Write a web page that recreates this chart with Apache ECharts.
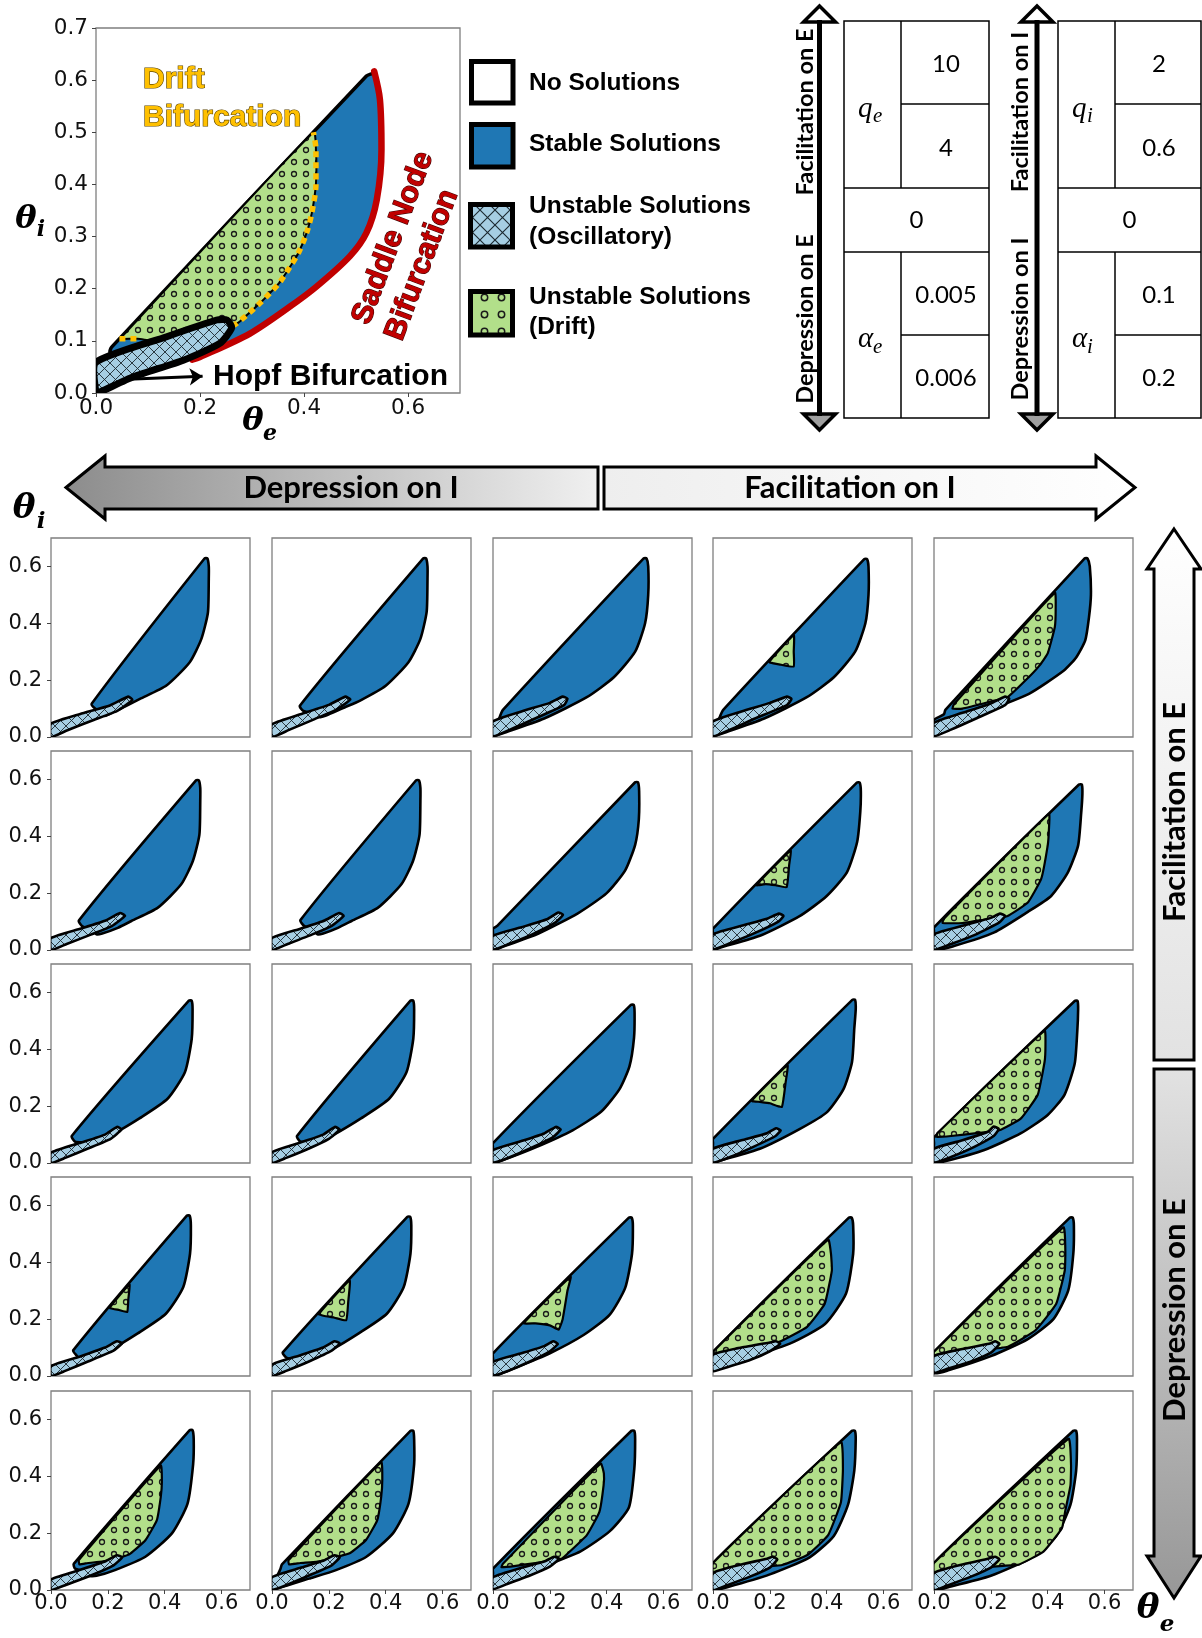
<!DOCTYPE html>
<html><head><meta charset="utf-8">
<script src="https://cdn.jsdelivr.net/npm/echarts@6/dist/echarts.min.js"></script>
<style>html,body{margin:0;padding:0;background:#fff}#c{width:1202px;height:1638px}</style>
</head><body><div id="c"></div>
<script>
// ---------------- DATA (theta_e, theta_i) ----------------
const MAIN_X_TICKS = [0, 0.2, 0.4, 0.6];
const MAIN_Y_TICKS = [0, 0.1, 0.2, 0.3, 0.4, 0.5, 0.6, 0.7];
const PANEL_X_TICKS = [0, 0.2, 0.4, 0.6];
const PANEL_Y_TICKS = [0, 0.2, 0.4, 0.6];

const MAIN_STABLE = [[0.027,0.078],[0.03,0.088],[0.52,0.608],[0.535,0.612],[0.545,0.563],[0.549,0.467],[0.54,0.371],[0.52,0.307],[0.488,0.262],[0.424,0.204],[0.372,0.165],[0.296,0.114],[0.2,0.069],[0.17,0.064],[0.1,0.07],[0.05,0.075]];
const MAIN_DRIFT = [[0.045,0.104],[0.05,0.108],[0.418,0.5],[0.423,0.467],[0.423,0.402],[0.415,0.345],[0.405,0.307],[0.389,0.268],[0.373,0.242],[0.354,0.213],[0.334,0.191],[0.315,0.172],[0.293,0.152],[0.27,0.133],[0.2,0.125],[0.12,0.1],[0.08,0.104]];
const MAIN_DRIFT_EDGE = [[0.262,0.128],[0.27,0.133],[0.293,0.152],[0.315,0.172],[0.334,0.191],[0.354,0.213],[0.373,0.242],[0.389,0.268],[0.405,0.307],[0.415,0.345],[0.423,0.402],[0.423,0.467],[0.418,0.5]];
const MAIN_DRIFT_FOOT = [[0.045,0.104],[0.08,0.104]];
const MAIN_SADDLE = [[0.535,0.617],[0.546,0.563],[0.549,0.467],[0.54,0.371],[0.52,0.307],[0.488,0.262],[0.424,0.204],[0.372,0.165],[0.296,0.114],[0.2,0.069],[0.185,0.064]];
const MAIN_HOPF = [[0,0.059],[0.136,0.108],[0.232,0.14],[0.252,0.14],[0.261,0.125],[0.238,0.095],[0.168,0.063],[0.072,0.031],[0.008,0.002],[0,0]];
const HOPF_ARROW = [[0.05,0.026],[0.205,0.032]];

// 5x5 panels, row by row (rows: facilitation on E -> depression on E; cols: depression on I -> facilitation on I)
const PANEL_STABLE = [
 [[0.155,0.1],[0.143,0.117],[0.54,0.628],[0.55,0.628],[0.555,0.6],[0.555,0.556],[0.552,0.438],[0.529,0.345],[0.488,0.263],[0.406,0.181],[0.313,0.134],[0.265,0.11],[0.207,0.082],[0.19,0.074],[0.18,0.085]],
 [[0.11,0.092],[0.098,0.11],[0.532,0.628],[0.542,0.628],[0.547,0.6],[0.547,0.556],[0.544,0.44],[0.522,0.345],[0.48,0.263],[0.4,0.18],[0.31,0.128],[0.255,0.104],[0.2,0.08],[0.17,0.07],[0.16,0.08]],
 [[0.02,0.06],[0.035,0.095],[0.53,0.628],[0.54,0.628],[0.546,0.6],[0.546,0.5],[0.535,0.4],[0.5,0.3],[0.425,0.21],[0.33,0.14],[0.18,0.065],[0.04,0.015],[0,0.003]],
 [[0.02,0.06],[0.036,0.095],[0.532,0.626],[0.542,0.626],[0.547,0.6],[0.547,0.5],[0.536,0.4],[0.5,0.3],[0.425,0.21],[0.33,0.14],[0.18,0.065],[0.04,0.015],[0,0.003]],
 [[0,0.06],[0.035,0.08],[0.04,0.095],[0.53,0.628],[0.54,0.628],[0.548,0.6],[0.552,0.5],[0.545,0.42],[0.532,0.34],[0.5,0.28],[0.457,0.234],[0.334,0.152],[0.187,0.094],[0.1,0.068],[0.04,0.054],[0,0.03]],
 [[0.112,0.082],[0.098,0.104],[0.51,0.597],[0.52,0.597],[0.525,0.57],[0.525,0.524],[0.522,0.406],[0.499,0.313],[0.458,0.231],[0.376,0.149],[0.283,0.102],[0.235,0.078],[0.18,0.058],[0.16,0.055],[0.15,0.068]],
 [[0.115,0.083],[0.1,0.105],[0.507,0.597],[0.517,0.597],[0.522,0.57],[0.522,0.524],[0.519,0.406],[0.496,0.313],[0.455,0.231],[0.373,0.149],[0.28,0.102],[0.232,0.078],[0.18,0.058],[0.16,0.055],[0.15,0.068]],
 [[0,0.058],[0,0.075],[0.015,0.085],[0.5,0.59],[0.51,0.59],[0.514,0.56],[0.513,0.46],[0.5,0.37],[0.465,0.28],[0.4,0.2],[0.3,0.13],[0.16,0.058],[0.03,0.01],[0,0]],
 [[0,0.055],[0,0.075],[0.506,0.589],[0.516,0.589],[0.52,0.56],[0.518,0.485],[0.507,0.38],[0.471,0.273],[0.4,0.19],[0.306,0.12],[0.165,0.05],[0.024,0.008],[0,0]],
 [[0,0.065],[0,0.08],[0.51,0.582],[0.52,0.582],[0.522,0.55],[0.518,0.485],[0.507,0.368],[0.471,0.273],[0.412,0.19],[0.33,0.134],[0.212,0.062],[0.07,0.014],[0,0]],
 [[0.085,0.075],[0.073,0.095],[0.485,0.571],[0.495,0.571],[0.498,0.54],[0.495,0.437],[0.471,0.319],[0.41,0.226],[0.311,0.157],[0.213,0.098],[0.16,0.07],[0.14,0.062],[0.13,0.072]],
 [[0.1,0.075],[0.088,0.095],[0.487,0.571],[0.497,0.571],[0.5,0.54],[0.497,0.437],[0.473,0.319],[0.412,0.226],[0.313,0.157],[0.215,0.098],[0.16,0.07],[0.14,0.062],[0.13,0.072]],
 [[0,0.052],[0,0.07],[0.485,0.556],[0.495,0.556],[0.498,0.53],[0.496,0.44],[0.48,0.34],[0.445,0.26],[0.38,0.18],[0.28,0.115],[0.15,0.055],[0.04,0.012],[0,0]],
 [[0,0.07],[0,0.085],[0.49,0.574],[0.5,0.574],[0.502,0.54],[0.497,0.473],[0.489,0.355],[0.459,0.26],[0.4,0.178],[0.306,0.12],[0.165,0.05],[0.024,0.008],[0,0]],
 [[0,0.07],[0,0.09],[0.495,0.57],[0.505,0.57],[0.507,0.54],[0.504,0.464],[0.495,0.35],[0.459,0.24],[0.4,0.169],[0.306,0.105],[0.177,0.046],[0.035,0.005],[0,0]],
 [[0.09,0.072],[0.078,0.09],[0.478,0.564],[0.488,0.564],[0.492,0.53],[0.489,0.43],[0.465,0.312],[0.404,0.219],[0.305,0.15],[0.207,0.091],[0.133,0.056],[0.11,0.05],[0.1,0.06]],
 [[0.05,0.065],[0.038,0.083],[0.476,0.56],[0.486,0.56],[0.49,0.53],[0.487,0.43],[0.463,0.312],[0.404,0.219],[0.305,0.15],[0.207,0.091],[0.133,0.056],[0.1,0.045],[0.08,0.055]],
 [[0,0.06],[0,0.08],[0.478,0.557],[0.488,0.557],[0.492,0.53],[0.489,0.43],[0.465,0.31],[0.41,0.215],[0.32,0.145],[0.2,0.08],[0.08,0.03],[0,0]],
 [[0,0.07],[0,0.085],[0.478,0.557],[0.488,0.557],[0.493,0.53],[0.493,0.43],[0.468,0.29],[0.394,0.183],[0.27,0.114],[0.099,0.056],[0,0.02]],
 [[0,0.07],[0,0.085],[0.478,0.557],[0.488,0.557],[0.492,0.53],[0.49,0.43],[0.472,0.3],[0.42,0.2],[0.33,0.13],[0.2,0.07],[0.05,0.02],[0,0.01]],
 [[0.085,0.075],[0.08,0.092],[0.488,0.562],[0.498,0.562],[0.502,0.53],[0.5,0.443],[0.48,0.303],[0.426,0.2],[0.332,0.117],[0.225,0.07],[0.16,0.05],[0.13,0.05],[0.12,0.065]],
 [[0.03,0.075],[0.035,0.09],[0.487,0.56],[0.497,0.56],[0.5,0.53],[0.5,0.443],[0.48,0.303],[0.426,0.2],[0.332,0.117],[0.225,0.07],[0.13,0.04],[0.05,0.015],[0,0.003]],
 [[0,0.06],[0,0.075],[0.487,0.56],[0.497,0.56],[0.5,0.53],[0.497,0.426],[0.478,0.29],[0.411,0.207],[0.308,0.136],[0.175,0.082],[0.05,0.035],[0,0.015]],
 [[0,0.06],[0,0.095],[0.489,0.56],[0.499,0.56],[0.502,0.53],[0.497,0.42],[0.475,0.3],[0.425,0.19],[0.34,0.115],[0.2,0.055],[0.05,0.01],[0,0]],
 [[0,0.06],[0,0.095],[0.49,0.56],[0.5,0.56],[0.503,0.53],[0.5,0.42],[0.48,0.3],[0.43,0.19],[0.345,0.115],[0.2,0.05],[0.05,0.01],[0,0]]
];
const PANEL_DRIFT = [
 null, null, null,
 [[0.198,0.264],[0.284,0.358],[0.284,0.3],[0.284,0.248],[0.24,0.254]],
 [[0.065,0.1],[0.07,0.115],[0.425,0.508],[0.428,0.45],[0.425,0.387],[0.4,0.294],[0.37,0.25],[0.334,0.211],[0.26,0.141],[0.2,0.125],[0.1,0.1]],
 null, null, null,
 [[0.153,0.228],[0.273,0.35],[0.268,0.3],[0.259,0.221],[0.22,0.228],[0.185,0.232]],
 [[0.03,0.095],[0.035,0.11],[0.404,0.479],[0.404,0.42],[0.4,0.368],[0.377,0.25],[0.33,0.167],[0.259,0.12],[0.2,0.11],[0.1,0.095]],
 null, null, null,
 [[0.136,0.219],[0.262,0.344],[0.255,0.28],[0.242,0.197],[0.2,0.21],[0.165,0.215]],
 [[0.01,0.092],[0.012,0.105],[0.389,0.466],[0.392,0.41],[0.389,0.356],[0.365,0.24],[0.306,0.157],[0.23,0.115],[0.15,0.105],[0.06,0.095]],
 [[0.207,0.24],[0.276,0.322],[0.272,0.27],[0.268,0.225],[0.24,0.232]],
 [[0.165,0.218],[0.273,0.336],[0.268,0.26],[0.261,0.196],[0.22,0.205],[0.19,0.21]],
 [[0.108,0.186],[0.273,0.349],[0.262,0.3],[0.245,0.2],[0.231,0.163],[0.2,0.178],[0.15,0.185]],
 [[0,0.066],[0,0.085],[0.405,0.48],[0.415,0.43],[0.418,0.371],[0.393,0.254],[0.331,0.173],[0.233,0.12],[0.15,0.1],[0.05,0.075]],
 [[0,0.07],[0,0.085],[0.455,0.523],[0.462,0.44],[0.46,0.371],[0.43,0.254],[0.357,0.161],[0.26,0.103],[0.15,0.09],[0.05,0.075]],
 [[0.1,0.09],[0.098,0.105],[0.386,0.438],[0.39,0.38],[0.386,0.327],[0.372,0.245],[0.332,0.175],[0.279,0.128],[0.245,0.115],[0.18,0.1],[0.13,0.095]],
 [[0.06,0.09],[0.058,0.105],[0.384,0.45],[0.388,0.39],[0.384,0.327],[0.37,0.245],[0.33,0.175],[0.275,0.13],[0.235,0.118],[0.16,0.1],[0.1,0.095]],
 [[0.03,0.08],[0.035,0.092],[0.379,0.445],[0.39,0.41],[0.389,0.368],[0.374,0.274],[0.33,0.193],[0.257,0.123],[0.24,0.11],[0.15,0.095],[0.08,0.085]],
 [[0,0.06],[0,0.095],[0.45,0.52],[0.457,0.426],[0.45,0.309],[0.405,0.193],[0.332,0.123],[0.243,0.088],[0.15,0.08],[0.05,0.07]],
 [[0,0.06],[0,0.095],[0.473,0.532],[0.482,0.44],[0.48,0.368],[0.462,0.28],[0.45,0.217],[0.385,0.135],[0.3,0.09],[0.243,0.085],[0.15,0.078],[0.05,0.068]]
];
const PANEL_HOPF = [
 [[0,0.047],[0.103,0.081],[0.207,0.111],[0.272,0.142],[0.286,0.13],[0.233,0.092],[0.15,0.06],[0.058,0.024],[0,0]],
 [[0,0.045],[0.1,0.08],[0.2,0.113],[0.258,0.142],[0.275,0.132],[0.225,0.095],[0.15,0.063],[0.058,0.024],[0,0]],
 [[0,0.055],[0.1,0.09],[0.2,0.12],[0.245,0.142],[0.262,0.135],[0.25,0.112],[0.15,0.066],[0.06,0.026],[0,0.003]],
 [[0,0.055],[0.1,0.09],[0.2,0.12],[0.26,0.142],[0.276,0.134],[0.26,0.112],[0.15,0.066],[0.06,0.026],[0,0.003]],
 [[0,0.05],[0.1,0.085],[0.2,0.118],[0.25,0.142],[0.265,0.135],[0.25,0.112],[0.15,0.066],[0.06,0.026],[0,0.003]],
 [[0,0.042],[0.1,0.074],[0.19,0.103],[0.243,0.13],[0.26,0.12],[0.215,0.085],[0.14,0.054],[0.055,0.021],[0,0]],
 [[0,0.042],[0.1,0.075],[0.185,0.104],[0.236,0.13],[0.252,0.12],[0.21,0.085],[0.14,0.054],[0.055,0.021],[0,0]],
 [[0,0.05],[0.1,0.08],[0.19,0.108],[0.23,0.132],[0.246,0.124],[0.22,0.097],[0.14,0.056],[0.055,0.021],[0,0.002]],
 [[0,0.055],[0.1,0.085],[0.19,0.11],[0.232,0.128],[0.248,0.12],[0.23,0.1],[0.15,0.061],[0.06,0.024],[0,0.003]],
 [[0,0.055],[0.1,0.085],[0.2,0.113],[0.232,0.128],[0.25,0.12],[0.23,0.097],[0.15,0.056],[0.06,0.021],[0,0.001]],
 [[0,0.036],[0.1,0.07],[0.19,0.1],[0.232,0.127],[0.248,0.118],[0.21,0.085],[0.13,0.051],[0.05,0.018],[0,0]],
 [[0,0.038],[0.1,0.072],[0.18,0.1],[0.221,0.127],[0.238,0.118],[0.2,0.085],[0.13,0.051],[0.05,0.018],[0,0]],
 [[0,0.045],[0.1,0.077],[0.18,0.104],[0.221,0.127],[0.238,0.118],[0.21,0.09],[0.13,0.051],[0.05,0.017],[0,0.002]],
 [[0,0.05],[0.1,0.08],[0.19,0.105],[0.222,0.122],[0.238,0.115],[0.22,0.095],[0.14,0.056],[0.06,0.021],[0,0.002]],
 [[0,0.05],[0.1,0.08],[0.19,0.11],[0.21,0.128],[0.228,0.12],[0.21,0.095],[0.14,0.056],[0.06,0.021],[0,0.002]],
 [[0,0.035],[0.1,0.068],[0.19,0.1],[0.232,0.122],[0.25,0.115],[0.22,0.089],[0.13,0.051],[0.05,0.018],[0,0]],
 [[0,0.04],[0.1,0.073],[0.18,0.1],[0.22,0.122],[0.238,0.115],[0.21,0.089],[0.13,0.051],[0.05,0.018],[0,0]],
 [[0,0.05],[0.1,0.08],[0.18,0.105],[0.212,0.122],[0.228,0.113],[0.2,0.087],[0.13,0.051],[0.05,0.017],[0,0.002]],
 [[0,0.075],[0.1,0.1],[0.2,0.118],[0.222,0.122],[0.236,0.113],[0.2,0.087],[0.13,0.056],[0.05,0.031],[0,0.017]],
 [[0,0.07],[0.1,0.095],[0.2,0.115],[0.215,0.122],[0.23,0.113],[0.2,0.082],[0.13,0.051],[0.05,0.026],[0,0.012]],
 [[0,0.037],[0.1,0.07],[0.19,0.1],[0.232,0.122],[0.25,0.115],[0.22,0.087],[0.14,0.051],[0.05,0.017],[0,0]],
 [[0,0.045],[0.1,0.078],[0.18,0.103],[0.22,0.122],[0.238,0.115],[0.21,0.087],[0.13,0.051],[0.05,0.017],[0,0.001]],
 [[0,0.045],[0.1,0.078],[0.18,0.1],[0.215,0.117],[0.232,0.11],[0.2,0.082],[0.13,0.051],[0.05,0.021],[0,0.003]],
 [[0,0.06],[0.1,0.09],[0.19,0.11],[0.21,0.117],[0.226,0.108],[0.2,0.079],[0.13,0.047],[0.05,0.017],[0,0]],
 [[0,0.06],[0.1,0.09],[0.19,0.11],[0.215,0.117],[0.23,0.108],[0.2,0.079],[0.13,0.047],[0.05,0.017],[0,0]]
];

// ---------------- STYLE / LAYOUT ----------------
const BLUE = '#1f77b4', LIGHTBLUE = '#a6cee3', GREEN = '#b2df8a';
const PANEL_LEFT = [51, 272, 493, 713, 934];
const PANEL_TOP = [538, 751, 964, 1177, 1391];
const PANEL_SIZE = 199;

function hatchPattern(step, lw) {
  const c = document.createElement('canvas'); c.width = c.height = step;
  const g = c.getContext('2d');
  g.fillStyle = LIGHTBLUE; g.fillRect(0, 0, step, step);
  g.strokeStyle = '#1c2830'; g.lineWidth = lw;
  g.beginPath();
  g.moveTo(-2, -2); g.lineTo(step + 2, step + 2);
  g.moveTo(step + 2, -2); g.lineTo(-2, step + 2);
  g.stroke();
  return { image: c, repeat: 'repeat' };
}
function dotPattern(step, r, lw) {
  const c = document.createElement('canvas'); c.width = c.height = step;
  const g = c.getContext('2d');
  g.fillStyle = GREEN; g.fillRect(0, 0, step, step);
  g.strokeStyle = '#1a1a1a'; g.lineWidth = lw;
  g.beginPath(); g.arc(step / 2, step / 2, r, 0, Math.PI * 2); g.stroke();
  return { image: c, repeat: 'repeat' };
}
const HATCH = hatchPattern(11, 0.9);
const DOTS = dotPattern(12, 2.5, 1.3);
const HATCH_L = hatchPattern(15, 1.1);
const DOTS_L = dotPattern(17, 3.2, 1.5);

const fmt1 = v => Number(v).toFixed(1);
const grids = [], xAxes = [], yAxes = [], series = [];

function addGrid(gi, left, top, w, h, xt, yt, showX, showY, fs, ymargin, xmargin) {
  grids.push({ left, top, width: w, height: h, show: true, borderColor: '#7f7f7f', borderWidth: 1.3,
    backgroundColor: '#fff', containLabel: false, outerBoundsMode: 'none' });
  xAxes.push({ gridIndex: gi, type: 'value', min: 0, max: 0.7,
    axisLine: { show: false }, splitLine: { show: false },
    axisTick: { show: showX, customValues: xt, length: 4, lineStyle: { color: '#444' } },
    axisLabel: { show: showX, customValues: xt, formatter: fmt1, fontSize: fs, color: '#111', fontFamily: 'DejaVu Sans', margin: xmargin } });
  yAxes.push({ gridIndex: gi, type: 'value', min: 0, max: 0.7,
    axisLine: { show: false }, splitLine: { show: false },
    axisTick: { show: showY, customValues: yt, length: 4, lineStyle: { color: '#444' } },
    axisLabel: { show: showY, customValues: yt, formatter: fmt1, fontSize: fs, color: '#111', fontFamily: 'DejaVu Sans', margin: ymargin } });
}
function poly(gi, pts, fill, lw, z, smooth) {
  return { type: 'custom', coordinateSystem: 'cartesian2d', xAxisIndex: gi, yAxisIndex: gi, clip: true, silent: true, z: z,
    data: pts,
    renderItem: function (params, api) {
      if (params.dataIndex !== 0) return null;
      return { type: 'polygon', shape: { points: pts.map(p => api.coord(p)), smooth: smooth || 0 },
        style: { fill: fill, stroke: '#000', lineWidth: lw, lineJoin: 'round' } };
    } };
}

// main plot
addGrid(0, 96, 28, 364, 365, MAIN_X_TICKS, MAIN_Y_TICKS, true, true, 21.5, 8, 4);
series.push(poly(0, MAIN_STABLE, BLUE, 3.5, 2, 0.2));
series.push(poly(0, MAIN_DRIFT, DOTS, 2, 3, 0.2));
series.push({ type: 'line', xAxisIndex: 0, yAxisIndex: 0, data: MAIN_DRIFT_EDGE, symbol: 'none', showSymbol: false, silent: true, z: 4, smooth: 0.3,
  lineStyle: { color: '#FFC000', width: 5.5, type: [6, 5], cap: 'butt' } });
series.push({ type: 'line', xAxisIndex: 0, yAxisIndex: 0, data: MAIN_DRIFT_FOOT, symbol: 'none', showSymbol: false, silent: true, z: 4,
  lineStyle: { color: '#FFC000', width: 5.5, type: [6, 5], cap: 'butt' } });
series.push({ type: 'line', xAxisIndex: 0, yAxisIndex: 0, data: MAIN_SADDLE, symbol: 'none', showSymbol: false, silent: true, z: 4, smooth: 0.3,
  lineStyle: { color: '#C00000', width: 6.5, cap: 'round', join: 'round' } });
series.push(poly(0, MAIN_HOPF, HATCH, 7, 5, 0.2));
series.push({ type: 'lines', coordinateSystem: 'cartesian2d', xAxisIndex: 0, yAxisIndex: 0, silent: true, z: 6,
  symbol: ['none', 'arrow'], symbolSize: 13,
  lineStyle: { color: '#000', width: 3, curveness: 0, opacity: 1 },
  data: [{ coords: HOPF_ARROW }] });

// panels
for (let r = 0; r < 5; r++) {
  for (let c = 0; c < 5; c++) {
    const k = r * 5 + c, gi = 1 + k;
    addGrid(gi, PANEL_LEFT[c], PANEL_TOP[r], PANEL_SIZE, PANEL_SIZE, PANEL_X_TICKS, PANEL_Y_TICKS, r === 4, c === 0, 21, 9, 3);
    series.push(poly(gi, PANEL_STABLE[k], BLUE, 2.6, 2, 0.2));
    if (PANEL_DRIFT[k]) series.push(poly(gi, PANEL_DRIFT[k], DOTS, 2.2, 3, 0.12));
    series.push(poly(gi, PANEL_HOPF[k], HATCH, 2.6, 4, 0.15));
  }
}

// ---------------- GRAPHICS ----------------
function T(x, y, text, font, opts, rotation) {
  const el = { type: 'text', x, y, z: 20, silent: true,
    style: Object.assign({ text, font, fill: '#000', align: 'left', verticalAlign: 'middle' }, opts || {}) };
  if (rotation) el.rotation = rotation;
  return el;
}
function L(x1, y1, x2, y2, w) {
  return { type: 'line', z: 20, silent: true, shape: { x1, y1, x2, y2 }, style: { stroke: '#000', lineWidth: w } };
}
function P(points, fill, lw) {
  return { type: 'polygon', z: 19, silent: true, shape: { points }, style: { fill, stroke: '#000', lineWidth: lw, lineJoin: 'miter' } };
}
function R(x, y, w, h, fill, lw) {
  return { type: 'rect', z: 20, silent: true, shape: { x, y, width: w, height: h }, style: { fill, stroke: '#000', lineWidth: lw } };
}
const lin = (x2, y2, c0, c1) => ({ type: 'linear', x: 0, y: 0, x2, y2, colorStops: [{ offset: 0, color: c0 }, { offset: 1, color: c1 }] });

const AR = 'bold 30px "Liberation Sans"';
const LG = 'bold 24.5px "Liberation Sans"';
const CAL = '"Lato"';
const G = [];
// main-plot annotations
G.push(T(143, 80, 'Drift', AR, { fill: '#FFC000', stroke: '#5a4300', lineWidth: 1.2 }));
G.push(T(143, 118, 'Bifurcation', AR, { fill: '#FFC000', stroke: '#5a4300', lineWidth: 1.2 }));
G.push(T(361, 323, 'Saddle Node', AR, { fill: '#C00000', stroke: '#3f0000', lineWidth: 1.2 }, 1.21));
G.push(T(394, 339, 'Bifurcation', AR, { fill: '#C00000', stroke: '#3f0000', lineWidth: 1.2 }, 1.21));
G.push(T(213, 377, 'Hopf Bifurcation', 'bold 30px "Liberation Sans"'));
// axis names
const TH = 'bold italic 32px "DejaVu Serif"', SB = 'bold italic 22px "DejaVu Serif"';
G.push(T(26, 220, 'θ', TH, { align: 'center' }));
G.push(T(41, 230, 'i', SB, { align: 'center' }));
G.push(T(253, 422, 'θ', TH, { align: 'center' }));
G.push(T(270, 434, 'e', SB, { align: 'center' }));
G.push(T(24, 509, 'θ', 'bold italic 34px "DejaVu Serif"', { align: 'center' }));
G.push(T(41, 522, 'i', 'bold italic 23px "DejaVu Serif"', { align: 'center' }));
G.push(T(1148, 1609, 'θ', 'bold italic 34px "DejaVu Serif"', { align: 'center' }));
G.push(T(1167, 1625, 'e', 'bold italic 23px "DejaVu Serif"', { align: 'center' }));
// legend
G.push(R(471.5, 61.5, 41.5, 41.5, '#fff', 5));
G.push(R(471.5, 124.5, 41.5, 42.5, BLUE, 5));
G.push(R(470.5, 204.5, 42, 42.5, HATCH_L, 5));
G.push(R(470.5, 291.5, 42, 43.5, DOTS_L, 5));
G.push(T(529, 83, 'No Solutions', LG));
G.push(T(529, 144, 'Stable Solutions', LG));
G.push(T(529, 206, 'Unstable Solutions', LG));
G.push(T(529, 237, '(Oscillatory)', LG));
G.push(T(529, 297, 'Unstable Solutions', LG));
G.push(T(529, 327, '(Drift)', LG));
// parameter tables
function table(x0, x1, xm, sub, vals) {
  const ys = [21, 104, 188, 252, 335, 418];
  G.push(R(x0, ys[0], x1 - x0, ys[5] - ys[0], 'none', 1.5));
  G.push(L(xm, ys[0], xm, ys[2], 1.5));
  G.push(L(xm, ys[3], xm, ys[5], 1.5));
  G.push(L(xm, ys[1], x1, ys[1], 1.5));
  G.push(L(x0, ys[2], x1, ys[2], 1.5));
  G.push(L(x0, ys[3], x1, ys[3], 1.5));
  G.push(L(xm, ys[4], x1, ys[4], 1.5));
  const cx = (xm + x1) / 2 + 1, NF = '24px ' + CAL;
  G.push(T(cx, 64, vals[0], NF, { align: 'center' }));
  G.push(T(cx, 148, vals[1], NF, { align: 'center' }));
  G.push(T((x0 + x1) / 2, 220, vals[2], NF, { align: 'center' }));
  G.push(T(cx, 295, vals[3], NF, { align: 'center' }));
  G.push(T(cx, 378, vals[4], NF, { align: 'center' }));
  const mx = x0 + 14;
  G.push(T(mx, 109, 'q', 'italic 29px "Liberation Serif"'));
  G.push(T(mx + 15, 116, sub, 'italic 21px "Liberation Serif"'));
  G.push(T(mx, 339, 'α', 'italic 29px "Liberation Serif"'));
  G.push(T(mx + 15, 347, sub, 'italic 21px "Liberation Serif"'));
}
table(844, 989, 901, 'e', ['10', '4', '0', '0.005', '0.006']);
table(1058, 1201, 1115, 'i', ['2', '0.6', '0', '0.1', '0.2']);
function vArrow(x, tx, l1, l2) {
  G.push(L(x, 20, x, 416, 5));
  G.push(P([[x - 16, 22], [x, 6], [x + 16, 22]], '#fff', 3.5));
  G.push(P([[x - 16, 414], [x, 430], [x + 16, 414]], '#a0a0a0', 3.5));
  G.push(T(tx, 112, l1, 'bold 23.5px ' + CAL, { align: 'center' }, Math.PI / 2));
  G.push(T(tx, 319, l2, 'bold 23.5px ' + CAL, { align: 'center' }, Math.PI / 2));
}
vArrow(819.5, 805, 'Facilitation on E', 'Depression on E');
vArrow(1037, 1020, 'Facilitation on I', 'Depression on I');
// big horizontal arrow
G.push(P([[66, 487.5], [105, 456], [105, 467], [598, 467], [598, 509], [105, 509], [105, 519]], lin(1, 0, '#8c8c8c', '#f0f0f0'), 3));
G.push(P([[604, 467], [1096, 467], [1096, 456], [1135, 487.5], [1096, 519], [1096, 509], [604, 509]], lin(1, 0, '#eeeeee', '#ffffff'), 3));
G.push(T(351, 488, 'Depression on I', 'bold 31px ' + CAL, { align: 'center' }));
G.push(T(850, 488, 'Facilitation on I', 'bold 31px ' + CAL, { align: 'center' }));
// big vertical arrow
G.push(P([[1174, 529], [1201, 569], [1194, 569], [1194, 1060], [1154, 1060], [1154, 569], [1147, 569]], lin(0, 1, '#ffffff', '#e2e2e2'), 3));
G.push(P([[1154, 1069], [1194, 1069], [1194, 1556], [1201, 1556], [1174, 1598], [1147, 1556], [1154, 1556]], lin(0, 1, '#e2e2e2', '#979797'), 3));
G.push(T(1175, 812, 'Facilitation on E', 'bold 31px ' + CAL, { align: 'center' }, Math.PI / 2));
G.push(T(1175, 1310, 'Depression on E', 'bold 31px ' + CAL, { align: 'center' }, Math.PI / 2));

const chart = echarts.init(document.getElementById('c'), null, { renderer: 'canvas' });
chart.setOption({ animation: false, backgroundColor: '#fff', grid: grids, xAxis: xAxes, yAxis: yAxes, series, graphic: G });
</script></body></html>
